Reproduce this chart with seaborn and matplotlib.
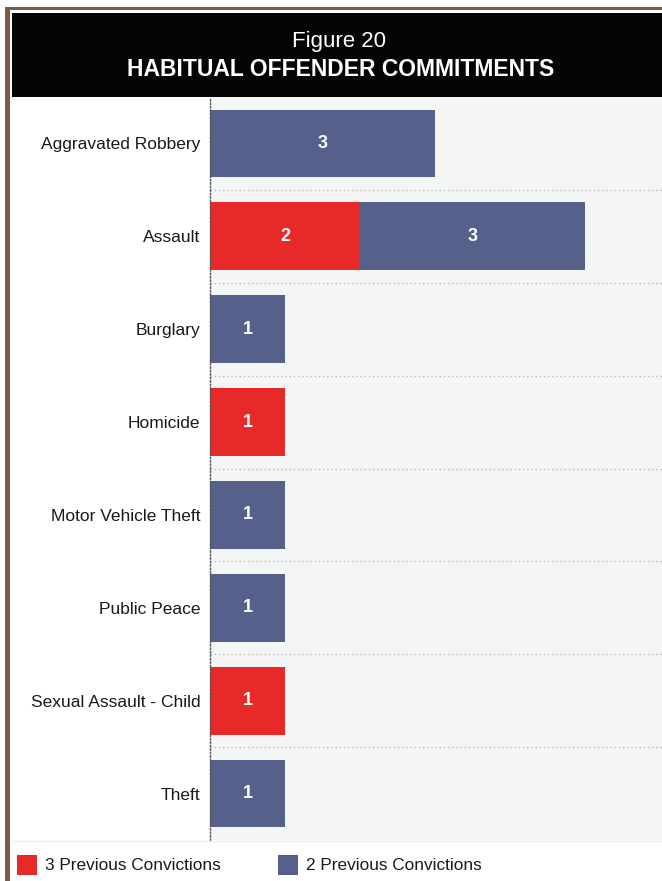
import matplotlib
matplotlib.use("Agg")
import matplotlib.pyplot as plt
import seaborn as sns
import pandas as pd
from matplotlib.patches import Rectangle

categories = ["Aggravated Robbery", "Assault", "Burglary", "Homicide",
              "Motor Vehicle Theft", "Public Peace", "Sexual Assault - Child", "Theft"]
three_prev = [0, 2, 0, 1, 0, 0, 1, 0]
two_prev = [3, 3, 1, 0, 1, 1, 0, 1]
series_names = ["3 Previous Convictions", "2 Previous Convictions"]
title_line1 = "Figure 20"
title_line2 = "HABITUAL OFFENDER COMMITMENTS"

RED = "#e8292a"
BLUE = "#55618a"
BG = "#f4f5f5"

sns.set_theme(style="white")
plt.rcParams['font.family'] = ['Liberation Sans', 'DejaVu Sans']

W, H = 662, 881
fig = plt.figure(figsize=(W / 100, H / 100), dpi=100)
fig.patch.set_facecolor("white")

def fx(x):
    return x / W

def fy(y):
    return 1 - y / H

# plot area
ax = fig.add_axes([fx(210), fy(840), fx(662) - fx(210), fy(97) - fy(840)])
ax.set_facecolor(BG)

df = pd.DataFrame({"category": categories, "three": three_prev, "two": two_prev})
df["total"] = df["three"] + df["two"]

sns.barplot(data=df, y="category", x="total", color=BLUE, orient="h",
            width=0.73, ax=ax, saturation=1, order=categories, linewidth=0)
sns.barplot(data=df, y="category", x="three", color=RED, orient="h",
            width=0.73, ax=ax, saturation=1, order=categories, linewidth=0)

for i, (t, w) in enumerate(zip(three_prev, two_prev)):
    if t > 0:
        ax.text(t / 2, i, str(t), ha="center", va="center", color="white",
                fontsize=13, fontweight="bold")
    if w > 0:
        ax.text(t + w / 2, i, str(w), ha="center", va="center", color="white",
                fontsize=13, fontweight="bold")

ax.set_xlim(0, 452 / 75)
ax.set_ylim(len(categories) - 0.5, -0.5)
ax.set_xlabel("")
ax.set_ylabel("")
ax.set_xticks([])
ax.tick_params(axis="y", length=0, pad=7, labelsize=12.5, labelcolor="#1a1a1a")
for s in ["top", "right", "bottom"]:
    ax.spines[s].set_visible(False)
ax.spines["left"].set_linestyle((0, (1, 1.5)))
ax.spines["left"].set_color("#555555")
ax.spines["left"].set_linewidth(1)

for b in range(1, len(categories)):
    ax.axhline(b - 0.5, color="#bbbbbb", linestyle=(0, (1, 2)), linewidth=1, zorder=0)

# header
fig.patches.append(Rectangle((fx(12), fy(97)), fx(662) - fx(12), fy(13) - fy(97),
                             transform=fig.transFigure, facecolor="#050505",
                             edgecolor="none", zorder=0))
# brown frame
fig.patches.append(Rectangle((fx(5), fy(10)), fx(662) - fx(5), fy(7) - fy(10),
                             transform=fig.transFigure, facecolor="#7a5c48",
                             edgecolor="none", zorder=1))
fig.patches.append(Rectangle((fx(5), 0), fx(10) - fx(5), fy(7),
                             transform=fig.transFigure, facecolor="#7a5c48",
                             edgecolor="none", zorder=1))

fig.text(fx(339), fy(41), title_line1, ha="center", va="center", color="white",
         fontsize=16)
fig.text(fx(341), fy(70), title_line2, ha="center", va="center", color="white",
         fontsize=16.5, fontweight="bold")

# bottom light line
fig.lines.append(plt.Line2D([fx(12), 1], [fy(841), fy(841)], transform=fig.transFigure,
                            color="#eeeeee", linewidth=1))

# legend
leg_items = [(17, RED, series_names[0]), (278, BLUE, series_names[1])]
for x0, c, lab in leg_items:
    fig.patches.append(Rectangle((fx(x0), fy(875)), fx(20), fy(855) - fy(875),
                                 transform=fig.transFigure, facecolor=c, edgecolor="none"))
    fig.text(fx(x0 + 28), fy(865), lab, ha="left", va="center", color="#1a1a1a",
             fontsize=12.4)

fig.savefig("out.png", dpi=100, facecolor="white")
